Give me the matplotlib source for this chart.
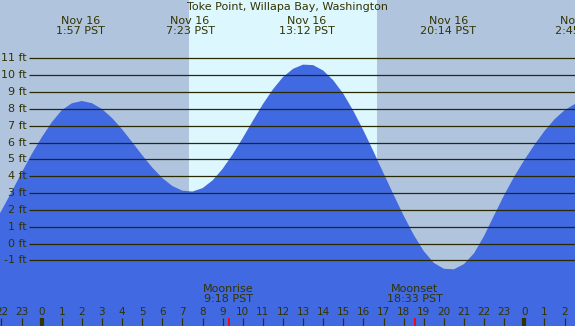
import matplotlib.pyplot as plt
import numpy as np

# tide height (ft) read every half hour, hours relative to midnight Nov 16
hours = np.arange(-2.5, 27.5, 0.5)
heights = [
    0.95, 1.95, 3.05, 4.2, 5.3, 6.3, 7.2, 7.92, 8.33, 8.47, 8.34,
    7.99, 7.46, 6.79, 6.03, 5.25, 4.52, 3.89, 3.42, 3.14, 3.09,
    3.29, 3.75, 4.44, 5.30, 6.27, 7.29, 8.28, 9.16, 9.89, 10.38,
    10.63, 10.60, 10.28, 9.70, 8.90, 7.88, 6.72, 5.47, 4.18, 2.9,
    1.66, 0.52, -0.45, -1.15, -1.50, -1.53, -1.22, -0.58, 0.45, 1.68,
    2.88, 3.98, 4.96, 5.86, 6.68, 7.38, 7.92, 8.28, 8.45,
]

# high / low tide labels
ext_hours = [1.95, 7.38, 13.2, 20.23, 26.75]
ext_labels = ["Nov 16\n1:57 PST", "Nov 16\n7:23 PST", "Nov 16\n13:12 PST",
              "Nov 16\n20:14 PST", "Nov 17\n2:45 PST"]

sunrise, sunset = 7.32, 16.67
moonrise, moonset = 9.3, 18.55
moon_labels = ["Moonrise\n9:18 PST", "Moonset\n18:33 PST"]

ft_levels = list(range(-1, 12))
x0, x1 = -2.07, 26.52
y0, y1 = -4.9, 14.47

night = "#b0c4de"
day = "#ddf7ff"
water = "#4169e1"
ink = "#333300"

fig = plt.figure(figsize=(5.75, 3.26), dpi=100)
ax = fig.add_axes([0, 0, 1, 1])
ax.set_axis_off()
ax.set_xlim(x0, x1)
ax.set_ylim(y0, y1)

ax.axvspan(x0, x1, color=night, lw=0)
ax.axvspan(sunrise, sunset, color=day, lw=0)
ax.fill_between(hours, heights, y0, color=water, lw=0)

ax.hlines(ft_levels, 29 / 575, 1, colors="#2a2a00", lw=0.9,
          transform=ax.get_yaxis_transform())
for lv in ft_levels:
    ax.text(27 / 575, lv, f"{lv} ft", transform=ax.get_yaxis_transform(),
            ha="right", va="center", fontsize=8, color=ink)

xt = ax.get_xaxis_transform()
ax.text(0.5, 1 - 7.5 / 326, "Toke Point, Willapa Bay, Washington",
        transform=ax.transAxes, ha="center", va="center", fontsize=8, color=ink)
for h, lab in zip(ext_hours, ext_labels):
    ax.text(h, 1 - 25.5 / 326, lab, transform=xt, ha="center", va="center",
            fontsize=8, color=ink, linespacing=1.0)

for h, lab in zip([moonrise, moonset], moon_labels):
    ax.text(h, 1 - 293.5 / 326, lab, transform=xt, ha="center", va="center",
            fontsize=8, color=ink, linespacing=1.0)

# hour ticks along the bottom
tick_hours = range(-2, 27)
for h in tick_hours:
    ax.text(h, 1 - 312 / 326, str(h % 24), transform=xt, ha="center",
            va="center", fontsize=7.5, color=ink)
    ax.vlines(h, 0, 8 / 326, transform=xt, colors=ink,
              lw=3 if h % 24 == 0 else 0.9)
ax.vlines([moonrise, moonset], 0, 8 / 326, transform=xt, colors="red", lw=1.3)

fig.savefig("out.png", dpi=100)
